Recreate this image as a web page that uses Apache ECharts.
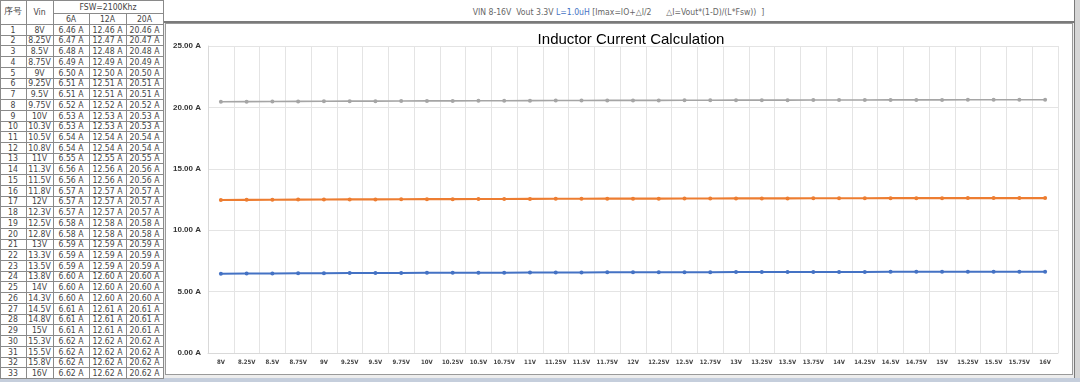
<!DOCTYPE html>
<html><head><meta charset="utf-8">
<script src="https://cdn.jsdelivr.net/npm/echarts@6/dist/echarts.min.js"></script>
<style>
html,body{margin:0;padding:0;width:1080px;height:382px;overflow:hidden;background:#c5cedc;}
#tbl{position:absolute;left:0;top:0;width:163px;height:378px;background:#fff;border-left:1px solid #8a8a8a;border-top:1px solid #8a8a8a;box-sizing:border-box;}
.c{position:absolute;box-sizing:border-box;border-right:1px solid #8a8a8a;border-bottom:1px solid #8a8a8a;font-family:"DejaVu Sans Condensed","Liberation Sans",sans-serif;font-size:8.6px;color:#444;text-align:center;white-space:nowrap;overflow:hidden;display:flex;align-items:center;justify-content:center;}
#banner{position:absolute;left:163px;top:0;width:912px;height:23px;background:#fff;border-bottom:2px solid #7a7a7a;border-right:1px solid #7a7a7a;box-sizing:border-box;font-family:"DejaVu Sans Condensed","Liberation Sans",sans-serif;font-size:8.6px;color:#666;text-align:center;line-height:25px;white-space:pre;}
#frame{position:absolute;left:163px;top:23px;width:912px;height:355px;background:#ededed;border-right:1px solid #7a7a7a;box-sizing:border-box;}
#chart{position:absolute;left:166px;top:24px;width:906px;height:350px;background:#fff;box-shadow:0 0 0 1px #9a9a9a;}
#rstrip{position:absolute;left:1075px;top:0;width:5px;height:378px;background:#d6d6d6;}
</style>
</head><body>
<div id="rstrip"></div>
<div id="banner">VIN 8-16V  Vout 3.3V <span style="color:#4472c4">L=1.0uH</span> [Imax=IO+△I/2      △I=Vout*(1-D)/(L*Fsw))  ]</div>
<div id="frame"></div>
<div id="tbl"></div>
<div id="chart"></div>
<script>
// ---- data ----
const tableVin = ["8V","8.25V","8.5V","8.75V","9V","9.25V","9.5V","9.75V","10V","10.3V","10.5V","10.8V","11V","11.3V","11.5V","11.8V","12V","12.3V","12.5V","12.8V","13V","13.3V","13.5V","13.8V","14V","14.3V","14.5V","14.8V","15V","15.3V","15.5V","15.8V","16V"];
const categories = ["8V","8.25V","8.5V","8.75V","9V","9.25V","9.5V","9.75V","10V","10.25V","10.5V","10.75V","11V","11.25V","11.5V","11.75V","12V","12.25V","12.5V","12.75V","13V","13.25V","13.5V","13.75V","14V","14.25V","14.5V","14.75V","15V","15.25V","15.5V","15.75V","16V"];
const i6A  = [6.46,6.47,6.48,6.49,6.50,6.51,6.51,6.52,6.53,6.53,6.54,6.54,6.55,6.56,6.56,6.57,6.57,6.57,6.58,6.58,6.59,6.59,6.59,6.60,6.60,6.60,6.61,6.61,6.61,6.62,6.62,6.62,6.62];
const i12A = [12.46,12.47,12.48,12.49,12.50,12.51,12.51,12.52,12.53,12.53,12.54,12.54,12.55,12.56,12.56,12.57,12.57,12.57,12.58,12.58,12.59,12.59,12.59,12.60,12.60,12.60,12.61,12.61,12.61,12.62,12.62,12.62,12.62];
const i20A = [20.46,20.47,20.48,20.49,20.50,20.51,20.51,20.52,20.53,20.53,20.54,20.54,20.55,20.56,20.56,20.57,20.57,20.57,20.58,20.58,20.59,20.59,20.59,20.60,20.60,20.60,20.61,20.61,20.61,20.62,20.62,20.62,20.62];
const seriesNames = ["6A","12A","20A"];
const headerFsw = "FSW=2100Khz";
const headerNo = "序号";
const headerVin = "Vin";
const chartTitle = "Inductor Current Calculation";

// ---- table ----
const tbl = document.getElementById('tbl');
const colX = [0,25,52,88,125,162];
function cell(x0,x1,y0,y1,txt){
  const d=document.createElement('div');d.className='c';
  d.style.left=x0+'px';d.style.top=y0+'px';d.style.width=(x1-x0+1)+'px';d.style.height=(y1-y0+1)+'px';
  d.textContent=txt;tbl.appendChild(d);
}
cell(-1,colX[1],-1,23,headerNo);
cell(colX[1],colX[2],-1,23,headerVin);
cell(colX[2],colX[5],-1,12,headerFsw);
for(let k=0;k<3;k++) cell(colX[2+k],colX[3+k],12,23,seriesNames[k]);
const rowH = 354/33;
for(let i=0;i<tableVin.length;i++){
  const y0=Math.round(23+i*rowH), y1=Math.round(23+(i+1)*rowH);
  cell(-1,colX[1],y0,y1,String(i+1));
  cell(colX[1],colX[2],y0,y1,tableVin[i]);
  cell(colX[2],colX[3],y0,y1,i6A[i].toFixed(2)+' A');
  cell(colX[3],colX[4],y0,y1,i12A[i].toFixed(2)+' A');
  cell(colX[4],colX[5],y0,y1,i20A[i].toFixed(2)+' A');
}

// ---- chart ----
const chart = echarts.init(document.getElementById('chart'));
const colors = ['#4472C4','#ED7D31','#A5A5A5'];
const dataSets = [i6A,i12A,i20A];
chart.setOption({
  animation:false,
  title:{text:chartTitle,left:460,top:3,textAlign:'center',textStyle:{fontFamily:'Liberation Sans',fontSize:15,fontWeight:'normal',color:'#000'}},
  grid:{left:42,right:14,top:22,bottom:21,containLabel:false},
  xAxis:{type:'category',data:categories,boundaryGap:true,
    axisLine:{show:true,lineStyle:{color:'#d9d9d9'}},axisTick:{show:false},
    axisLabel:{interval:0,fontSize:6,fontWeight:'bold',color:'#444',margin:6,fontFamily:'DejaVu Sans Condensed'},
    splitLine:{show:true,lineStyle:{color:'#e4e4e4'}}},
  yAxis:{type:'value',min:0,max:25,interval:5,
    axisLine:{show:true,lineStyle:{color:'#d9d9d9'}},axisTick:{show:false},
    axisLabel:{formatter:v=>v.toFixed(2)+' A',fontSize:8,fontWeight:'bold',color:'#333',margin:7,fontFamily:'Liberation Sans'},
    splitLine:{lineStyle:{color:'#e4e4e4'}}},
  series:dataSets.map((d,k)=>({name:seriesNames[k],type:'line',data:d,color:colors[k],
    symbol:'circle',symbolSize:4,lineStyle:{width:k===1?2.2:(k===0?2:1.6),color:colors[k]},itemStyle:{color:colors[k]}}))
});
</script>
</body></html>
